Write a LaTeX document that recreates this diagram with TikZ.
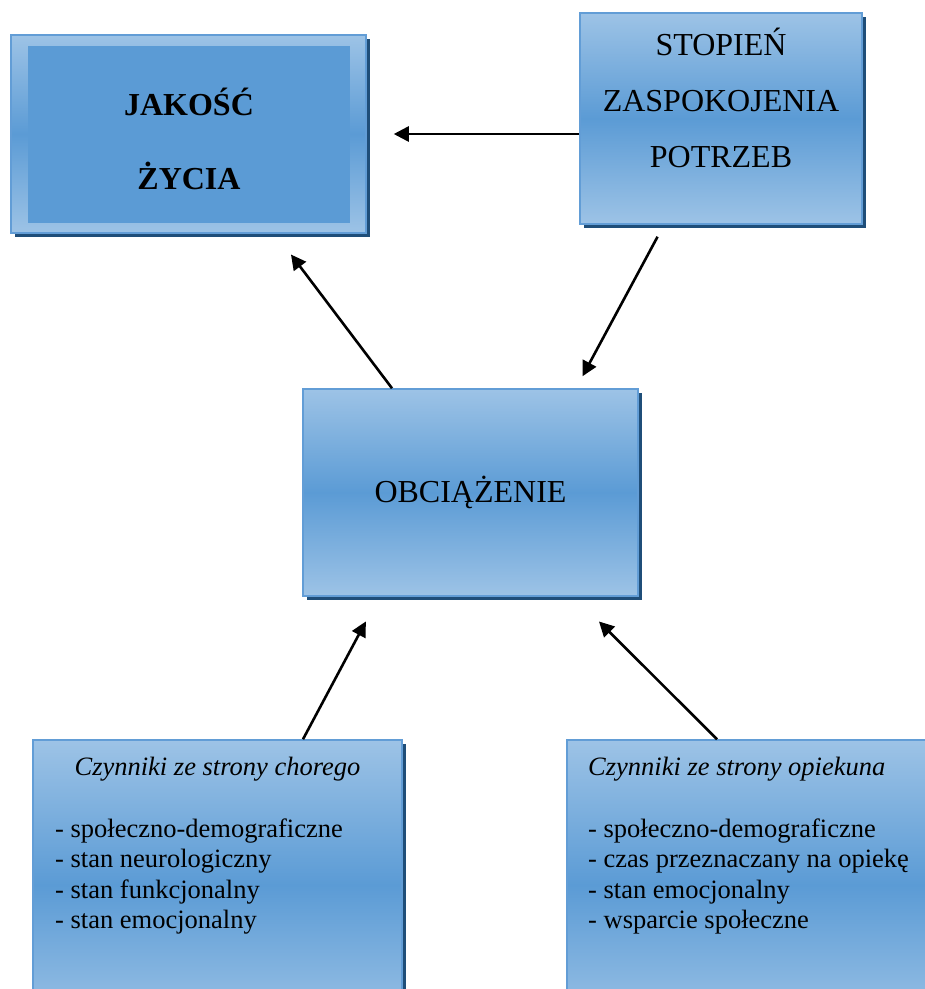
\documentclass[tikz,border=0pt]{standalone}
\usepackage{fontspec}
\setmainfont{Liberation Serif}
\usetikzlibrary{arrows.meta,positioning,shadows}
\definecolor{boxlight}{RGB}{157,195,230}
\definecolor{boxmid}{RGB}{91,155,213}
\definecolor{boxedge}{RGB}{98,157,214}
\definecolor{boxshadow}{RGB}{31,78,121}
\tikzset{
  bluebox/.style={draw=boxedge, line width=1.5pt, top color=boxlight,
    bottom color=boxlight, middle color=boxmid, inner sep=0pt,
    drop shadow={shadow xshift=4pt, shadow yshift=-4pt, fill=boxshadow, opacity=1}},
  arr/.style={line width=2.6pt, -{Triangle[length=15pt,width=15pt]}},
  bigtext/.style={font=\fontsize{32}{56}\selectfont, align=center, inner sep=0pt},
  listtext/.style={font=\fontsize{26.5}{30.7}\selectfont, inner sep=0pt}
}

\begin{document}
\begin{tikzpicture}[x=1pt, y=-1pt]
\useasboundingbox (0,0) rectangle (925,989);
% Jakosc zycia: light frame with a flat panel inside
\node[bluebox, minimum width=355pt, minimum height=198pt] (jakoscframe) at (188.5,134) {};
\node[fill=boxmid, minimum width=322pt, minimum height=177pt, inner sep=0pt] (jakosc) at (189,134) {};
\node[bigtext, font=\fontsize{32}{74}\selectfont\bfseries] (jakosctext) at (189,139) {JAKOŚĆ\\ŻYCIA};
% Stopien zaspokojenia potrzeb
\node[bluebox, minimum width=282pt, minimum height=211pt] (stopien) at (721,118.5) {};
\node[bigtext] (stopientext) at (721,98) {STOPIEŃ\\ZASPOKOJENIA\\POTRZEB};
% Obciazenie
\node[bluebox, minimum width=335pt, minimum height=207pt, font=\fontsize{32}{56}\selectfont] (obc) at (470.5,492.5) {OBCIĄŻENIE};
% Bottom boxes (cut by the page edge)
\node[bluebox, minimum width=369pt, minimum height=290pt] (chory) at (217.5,885) {};
\node[bluebox, minimum width=369pt, minimum height=290pt] (opiekun) at (751.5,885) {};
\node[listtext, anchor=base] (chorytitle) at (217.5,775) {\itshape Czynniki ze strony chorego};
\node[listtext, anchor=base west] (opiekuntitle) at (588,775) {\itshape Czynniki ze strony opiekuna};
\foreach \i/\txt in {0/społeczno-demograficzne, 1/stan neurologiczny, 2/stan funkcjonalny, 3/stan emocjonalny}
  \node[listtext, anchor=base west] (chory\i) at (55,{837+\i*30.5}) {- \txt};
\foreach \i/\txt in {0/społeczno-demograficzne, 1/czas przeznaczany na opiekę, 2/stan emocjonalny, 3/wsparcie społeczne}
  \node[listtext, anchor=base west] (opiekun\i) at (588,{837+\i*30.5}) {- \txt};
% Arrows
\draw[arr, shorten >=27pt] (stopien.west |- jakosc.east) -- (jakoscframe.east |- jakosc.east);
\draw[arr, shorten <=13.6pt, shorten >=13.6pt] ([xshift=-57pt]stopien.south) -- ([xshift=105.5pt]obc.north);
\draw[arr, shorten >=26pt] ([xshift=-78.5pt]obc.north) -- ([xshift=86.8pt]jakoscframe.south);
\draw[arr, shorten >=28pt] ([xshift=85.5pt]chory.north) -- ([xshift=-91.5pt]obc.south);
\draw[arr, shorten >=35pt] ([xshift=-34.5pt]opiekun.north) -- ([xshift=103.7pt]obc.south);
\end{tikzpicture}
\end{document}
